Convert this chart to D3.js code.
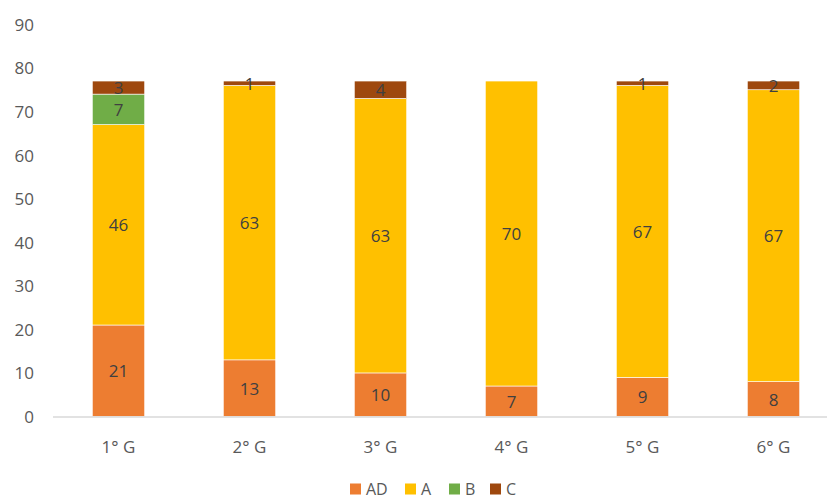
<!DOCTYPE html>
<html>
<head>
<meta charset="utf-8">
<script src="https://cdn.jsdelivr.net/npm/d3@7"></script>
<style>
  body { margin: 0; background: #fff; }
  text { font-family: "Open Sans", "Noto Sans", sans-serif; }
</style>
</head>
<body>
<script>
var grades = ["1° G", "2° G", "3° G", "4° G", "5° G", "6° G"];
var seriesNames = ["AD", "A", "B", "C"];
var AD = [21, 13, 10, 7, 9, 8];
var A  = [46, 63, 63, 70, 67, 67];
var B  = [7, 0, 0, 0, 0, 0];
var C  = [3, 1, 4, 0, 1, 2];
var yTicks = [0, 10, 20, 30, 40, 50, 60, 70, 80, 90];
var colors = ["#ED7D31", "#FFC000", "#70AD47", "#9E480E"];

var width = 827, height = 499;

// table for d3.stack
var table = grades.map(function(g, i) {
    return { grade: g, AD: AD[i], A: A[i], B: B[i], C: C[i] };
});

var svg = d3.select("body")
    .append("svg")
    .attr("width", width)
    .attr("height", height);

var xscale = d3.scaleBand()
    .domain(grades)
    .range([53, 839])
    .paddingInner(0.6)
    .paddingOuter(0.3);

var yscale = d3.scaleLinear()
    .domain([0, 90])
    .range([416.5, 24.4]);

var stacked = d3.stack().keys(seriesNames)(table);

// y tick labels
svg.append("g")
    .selectAll("text")
    .data(yTicks)
    .enter()
    .append("text")
    .attr("x", 34)
    .attr("y", function(d) { return yscale(d); })
    .attr("text-anchor", "end")
    .attr("dominant-baseline", "central")
    .style("font-size", "17px")
    .style("fill", "#595959")
    .text(function(d) { return d; });

// bars
var layers = svg.append("g")
    .selectAll("g")
    .data(stacked)
    .enter()
    .append("g")
    .attr("fill", function(d, i) { return colors[i]; });

layers.selectAll("rect")
    .data(function(d) { return d; })
    .enter()
    .append("rect")
    .attr("x", function(d) { return xscale(d.data.grade); })
    .attr("width", xscale.bandwidth())
    .attr("y", function(d) { return yscale(d[1]); })
    .attr("height", function(d) { return yscale(d[0]) - yscale(d[1]); })
    .attr("stroke", "#fff")
    .attr("stroke-width", function(d) { return d[1] > d[0] ? 0.6 : 0; });

// baseline
svg.append("line")
    .attr("x1", 53).attr("x2", 839)
    .attr("y1", yscale(0) + 0.5).attr("y2", yscale(0) + 0.5)
    .attr("stroke", "#D9D9D9")
    .attr("stroke-width", 1.5);

// data labels
layers.selectAll("text")
    .data(function(d) { return d.filter(function(p) { return p[1] - p[0] > 0; }); })
    .enter()
    .append("text")
    .attr("x", function(d) { return xscale(d.data.grade) + xscale.bandwidth() / 2; })
    .attr("y", function(d) { return (yscale(d[0]) + yscale(d[1])) / 2; })
    .attr("text-anchor", "middle")
    .attr("dominant-baseline", "central")
    .style("font-size", "17px")
    .style("fill", "#404040")
    .text(function(d) { return d[1] - d[0]; });

// x labels
svg.append("g")
    .selectAll("text")
    .data(grades)
    .enter()
    .append("text")
    .attr("x", function(d) { return xscale(d) + xscale.bandwidth() / 2; })
    .attr("y", 446)
    .attr("text-anchor", "middle")
    .attr("dominant-baseline", "central")
    .style("font-size", "17px")
    .style("fill", "#595959")
    .text(function(d) { return d; });

// legend
var legendX = [350, 405, 449, 490];
var legend = svg.append("g")
    .selectAll("g")
    .data(seriesNames)
    .enter()
    .append("g")
    .attr("transform", function(d, i) { return "translate(" + legendX[i] + ",489)"; });

legend.append("rect")
    .attr("x", 0).attr("y", -5.5)
    .attr("width", 11).attr("height", 11)
    .attr("fill", function(d, i) { return colors[i]; });

legend.append("text")
    .attr("x", 16)
    .attr("y", 0)
    .attr("dominant-baseline", "central")
    .style("font-size", "16px")
    .style("fill", "#595959")
    .text(function(d) { return d; });
</script>
</body>
</html>
